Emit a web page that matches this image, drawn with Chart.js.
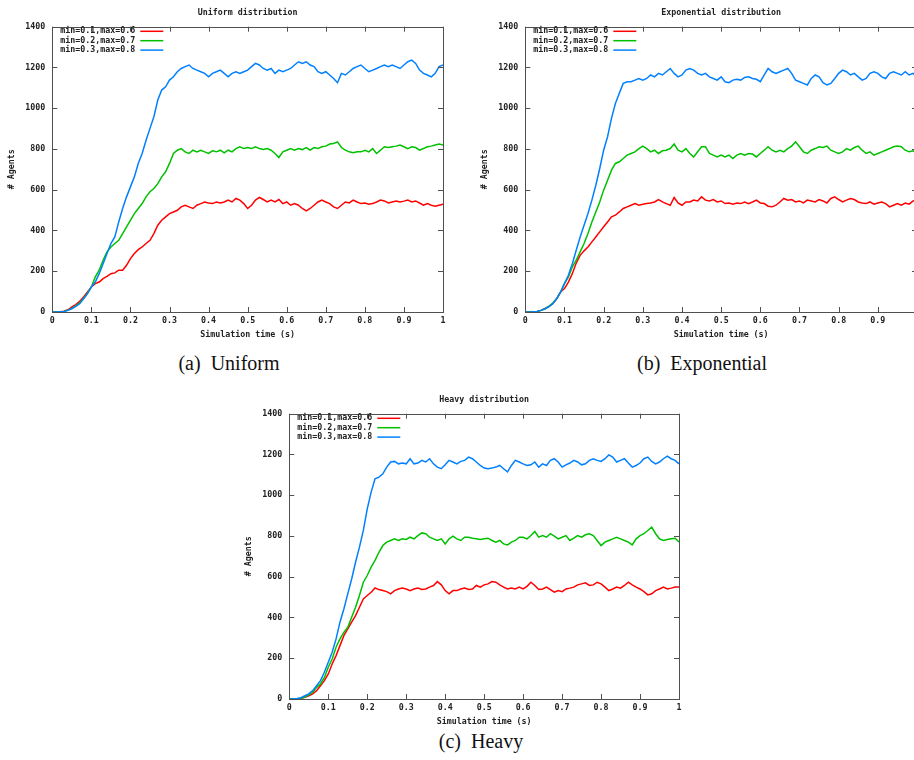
<!DOCTYPE html>
<html>
<head>
<meta charset="utf-8">
<script src="https://cdn.jsdelivr.net/npm/chart.js@4.4.1/dist/chart.umd.min.js"></script>
<style>
  html, body { margin: 0; padding: 0; background: #fff; width: 914px; height: 760px; overflow: hidden; }
  .plot { position: absolute; }
  .cap { position: absolute; font-family: "Liberation Serif", "DejaVu Serif", serif; font-size: 20px; line-height: 20px; color: #111; transform: translateX(-50%); white-space: pre; }
</style>
</head>
<body>
<canvas id="uniform" class="plot" width="460" height="342" style="left:0;top:0"></canvas>
<canvas id="exponential" class="plot" width="461" height="342" style="left:473px;top:0"></canvas>
<canvas id="heavy" class="plot" width="459" height="342" style="left:237px;top:387px"></canvas>
<div class="cap" style="left:229px;top:353px">(a)  Uniform</div>
<div class="cap" style="left:702px;top:353px">(b)  Exponential</div>
<div class="cap" style="left:481px;top:731px">(c)  Heavy</div>

<script>
// sampling grid of the simulation (s)
const TIME = Array.from({length: 101}, (_, i) => i / 100);
const X_TICKS = [0, 0.1, 0.2, 0.3, 0.4, 0.5, 0.6, 0.7, 0.8, 0.9, 1];
const Y_TICKS = [0, 200, 400, 600, 800, 1000, 1200, 1400];
const SERIES_LABELS = ['min=0.1,max=0.6', 'min=0.2,max=0.7', 'min=0.3,max=0.8'];

// Uniform distribution
const UNIFORM_RED = [
  0,0,1,4,11,25,36,52,74,98,
  123,139,147,164,175,188,192,205,205,229,
  262,287,306,319,336,352,385,426,450,467,
  483,491,499,516,524,516,508,524,532,540,
  535,532,540,535,540,549,540,557,549,532,
  508,524,549,562,552,540,549,540,552,532,
  540,524,532,524,508,496,508,524,540,549,
  540,532,516,508,524,540,535,549,540,532,
  535,529,532,540,549,545,535,540,545,540,
  544,549,540,545,535,524,532,524,519,524,
  529];
const UNIFORM_GREEN = [
  0,0,1,3,9,18,30,45,66,92,
  123,172,205,254,295,319,336,352,385,418,
  450,483,508,532,565,590,606,630,663,688,
  729,778,794,802,786,778,794,786,794,786,
  778,791,786,794,781,794,786,802,811,802,
  807,802,811,802,797,802,794,778,758,786,
  794,802,794,802,797,807,794,807,802,811,
  814,824,827,835,807,794,786,781,786,786,
  794,786,802,778,794,811,807,811,814,819,
  811,802,811,807,794,802,811,814,819,824,
  819];
const UNIFORM_BLUE = [
  0,0,1,3,8,16,28,41,65,90,
  123,147,188,237,287,336,368,442,508,565,
  614,663,729,778,843,901,958,1040,1089,1105,
  1138,1154,1179,1195,1204,1212,1195,1187,1179,1171,
  1154,1171,1179,1187,1171,1154,1171,1179,1171,1179,
  1187,1204,1220,1212,1195,1187,1195,1171,1187,1179,
  1187,1195,1212,1228,1220,1228,1212,1204,1179,1171,
  1179,1163,1146,1125,1171,1163,1179,1195,1204,1212,
  1195,1179,1187,1195,1204,1212,1204,1212,1204,1195,
  1212,1228,1236,1220,1187,1171,1163,1154,1171,1204,
  1212];

// Exponential distribution
const EXPO_RED = [
  0,0,1,3,8,16,28,41,65,98,
  115,147,188,240,278,300,319,344,368,393,
  418,442,467,475,491,508,516,524,532,524,
  529,532,535,540,552,540,532,524,562,535,
  524,540,540,549,545,565,549,545,552,540,
  545,532,535,529,535,532,540,532,540,549,
  535,532,519,516,524,540,557,549,552,540,
  545,535,549,545,540,552,545,535,557,565,
  552,540,549,557,552,540,535,532,540,529,
  535,540,532,516,524,532,524,535,529,545,
  549];
const EXPO_GREEN = [
  0,0,1,3,8,16,28,43,66,98,
  139,172,221,254,295,336,385,442,491,540,
  598,647,696,729,737,753,770,778,786,802,
  814,802,786,794,778,791,794,802,824,794,
  786,802,778,761,786,811,811,778,770,761,
  770,761,770,753,770,778,770,778,775,761,
  778,794,811,794,786,794,786,802,814,835,
  811,786,778,794,802,811,807,814,794,786,
  778,786,802,794,807,814,794,778,786,770,
  778,786,794,802,811,814,811,794,786,791,
  778];
const EXPO_BLUE = [
  0,0,1,3,8,16,25,41,65,98,
  139,180,237,303,368,426,483,549,622,704,
  794,860,950,1023,1073,1122,1130,1130,1138,1146,
  1138,1146,1163,1154,1171,1163,1179,1195,1171,1154,
  1163,1187,1195,1187,1171,1163,1171,1154,1146,1138,
  1154,1130,1125,1138,1142,1138,1151,1154,1146,1142,
  1130,1163,1195,1179,1171,1179,1187,1195,1171,1138,
  1130,1122,1114,1146,1163,1154,1125,1114,1122,1146,
  1171,1187,1179,1163,1171,1154,1138,1146,1171,1179,
  1171,1154,1146,1171,1179,1171,1163,1179,1163,1171,
  1154];

// Heavy distribution
const HEAVY_RED = [
  0,0,1,3,8,16,25,41,65,90,
  123,172,213,262,311,344,377,409,450,491,
  508,524,545,537,532,527,516,532,540,544,
  540,532,540,544,537,540,549,557,576,560,
  532,516,532,532,540,544,537,540,557,549,
  560,565,576,573,560,549,540,544,540,549,
  540,553,573,557,537,540,549,537,524,532,
  527,540,544,549,560,565,570,557,560,573,
  565,549,532,540,549,544,557,573,560,549,
  540,527,511,516,532,540,549,540,544,549,
  549];
const HEAVY_GREEN = [
  0,0,1,4,10,20,33,57,74,106,
  156,196,254,295,327,352,401,450,508,573,
  606,647,680,720,753,770,778,786,778,786,
  783,794,786,802,815,811,794,786,778,786,
  761,786,799,786,778,794,794,789,786,783,
  786,789,778,770,778,761,756,770,778,794,
  794,786,802,822,794,802,794,811,799,786,
  794,802,778,789,802,794,806,811,802,778,
  753,770,778,786,794,786,778,770,756,786,
  802,811,827,843,811,786,778,783,786,789,
  770];
const HEAVY_BLUE = [
  0,0,2,6,16,25,41,65,90,131,
  180,229,295,377,442,516,589,671,745,827,
  933,1015,1081,1089,1105,1138,1163,1166,1154,1158,
  1154,1179,1154,1158,1171,1163,1179,1154,1138,1130,
  1149,1171,1163,1154,1166,1171,1187,1179,1163,1146,
  1133,1130,1133,1138,1146,1130,1114,1146,1171,1163,
  1154,1146,1149,1163,1138,1154,1146,1171,1179,1163,
  1138,1149,1158,1171,1163,1149,1154,1171,1179,1171,
  1166,1179,1198,1187,1163,1171,1179,1158,1138,1146,
  1158,1179,1187,1166,1154,1163,1179,1192,1179,1171,
  1154];

const COLORS = ['#ff0000', '#00c000', '#0080ff'];
const TEXT = '#222';
const MONO = { family: '"DejaVu Sans Mono", "Liberation Mono", monospace', size: 8.3, weight: 'bold' };

// gnuplot style frame: full border with inward tick marks on all sides
const gnuFrame = {
  id: 'gnuFrame',
  afterDatasetsDraw(chart) {
    const { ctx, chartArea: a, scales: { x, y } } = chart;
    ctx.save();
    ctx.strokeStyle = '#505050';
    ctx.lineWidth = 1;
    ctx.beginPath();
    x.ticks.forEach(t => {
      const px = Math.round(x.getPixelForValue(t.value)) + 0.5;
      ctx.moveTo(px, a.bottom); ctx.lineTo(px, a.bottom - 5);
      ctx.moveTo(px, a.top); ctx.lineTo(px, a.top + 5);
    });
    y.ticks.forEach(t => {
      const py = Math.round(y.getPixelForValue(t.value)) + 0.5;
      ctx.moveTo(a.left, py); ctx.lineTo(a.left + 5, py);
      ctx.moveTo(a.right, py); ctx.lineTo(a.right - 5, py);
    });
    ctx.stroke();
    ctx.strokeRect(Math.round(a.left) + 0.5, Math.round(a.top) + 0.5,
      Math.round(a.right - a.left), Math.round(a.bottom - a.top));
    ctx.restore();
  }
};

// key in the upper left corner: label, then a line sample
const gnuKey = {
  id: 'gnuKey',
  afterDraw(chart) {
    const { ctx, chartArea: a } = chart;
    ctx.save();
    ctx.font = `bold ${MONO.size}px ${MONO.family}`;
    ctx.textAlign = 'right';
    ctx.textBaseline = 'middle';
    chart.data.datasets.forEach((ds, i) => {
      const yy = a.top + 4.6 + i * 9.4;
      ctx.fillStyle = TEXT;
      ctx.fillText(ds.label, a.left + 83, yy);
      ctx.strokeStyle = ds.borderColor;
      ctx.lineWidth = 1.5;
      ctx.beginPath();
      ctx.moveTo(a.left + 88, yy);
      ctx.lineTo(a.left + 111, yy);
      ctx.stroke();
    });
    ctx.restore();
  }
};

function makePlot(id, title, series) {
  const datasets = series.map((vals, i) => ({
    label: SERIES_LABELS[i],
    data: TIME.map((t, k) => ({ x: t, y: vals[k] })),
    borderColor: COLORS[i],
    borderWidth: 1.5,
    pointRadius: 0,
    tension: 0,
    order: 3 - i  // last series drawn on top, like gnuplot
  }));

  return new Chart(document.getElementById(id), {
    type: 'line',
    data: { datasets },
    plugins: [gnuFrame, gnuKey],
    options: {
      responsive: false,
      animation: false,
      layout: { padding: { left: 0, right: 17, top: 0, bottom: 0 } },
      plugins: { legend: { display: false }, tooltip: { enabled: false } },
      scales: {
        x: {
          type: 'linear', position: 'bottom', min: 0, max: 1,
          afterFit(s) { s.height = 30; },
          afterBuildTicks(s) { s.ticks = X_TICKS.map(v => ({ value: v })); },
          ticks: { padding: 4, color: TEXT, font: MONO, maxRotation: 0, autoSkip: false,
                   callback: v => String(Math.round(v * 10) / 10) },
          grid: { display: false, drawTicks: false },
          border: { display: false },
          title: { display: true, text: 'Simulation time (s)', color: TEXT, font: MONO,
                   padding: { top: 0, bottom: 2 } }
        },
        xTop: {
          type: 'linear', position: 'top', min: 0, max: 1,
          afterFit(s) { s.height = 26.7; },
          ticks: { display: false },
          grid: { display: false, drawTicks: false },
          border: { display: false },
          title: { display: true, text: title, color: TEXT, font: MONO,
                   padding: { top: 8, bottom: 0 } }
        },
        y: {
          type: 'linear', min: 0, max: 1400,
          afterFit(s) { s.width = 52.3; },
          afterBuildTicks(s) { s.ticks = Y_TICKS.map(v => ({ value: v })); },
          ticks: { padding: 7, color: TEXT, font: MONO, callback: v => String(v) },
          grid: { display: false, drawTicks: false },
          border: { display: false },
          title: { display: true, text: '# Agents', color: TEXT, font: MONO,
                   padding: { top: 7, bottom: 0 } }
        }
      }
    }
  });
}

makePlot('uniform', 'Uniform distribution', [UNIFORM_RED, UNIFORM_GREEN, UNIFORM_BLUE]);
makePlot('exponential', 'Exponential distribution', [EXPO_RED, EXPO_GREEN, EXPO_BLUE]);
makePlot('heavy', 'Heavy distribution', [HEAVY_RED, HEAVY_GREEN, HEAVY_BLUE]);
</script>
</body>
</html>
